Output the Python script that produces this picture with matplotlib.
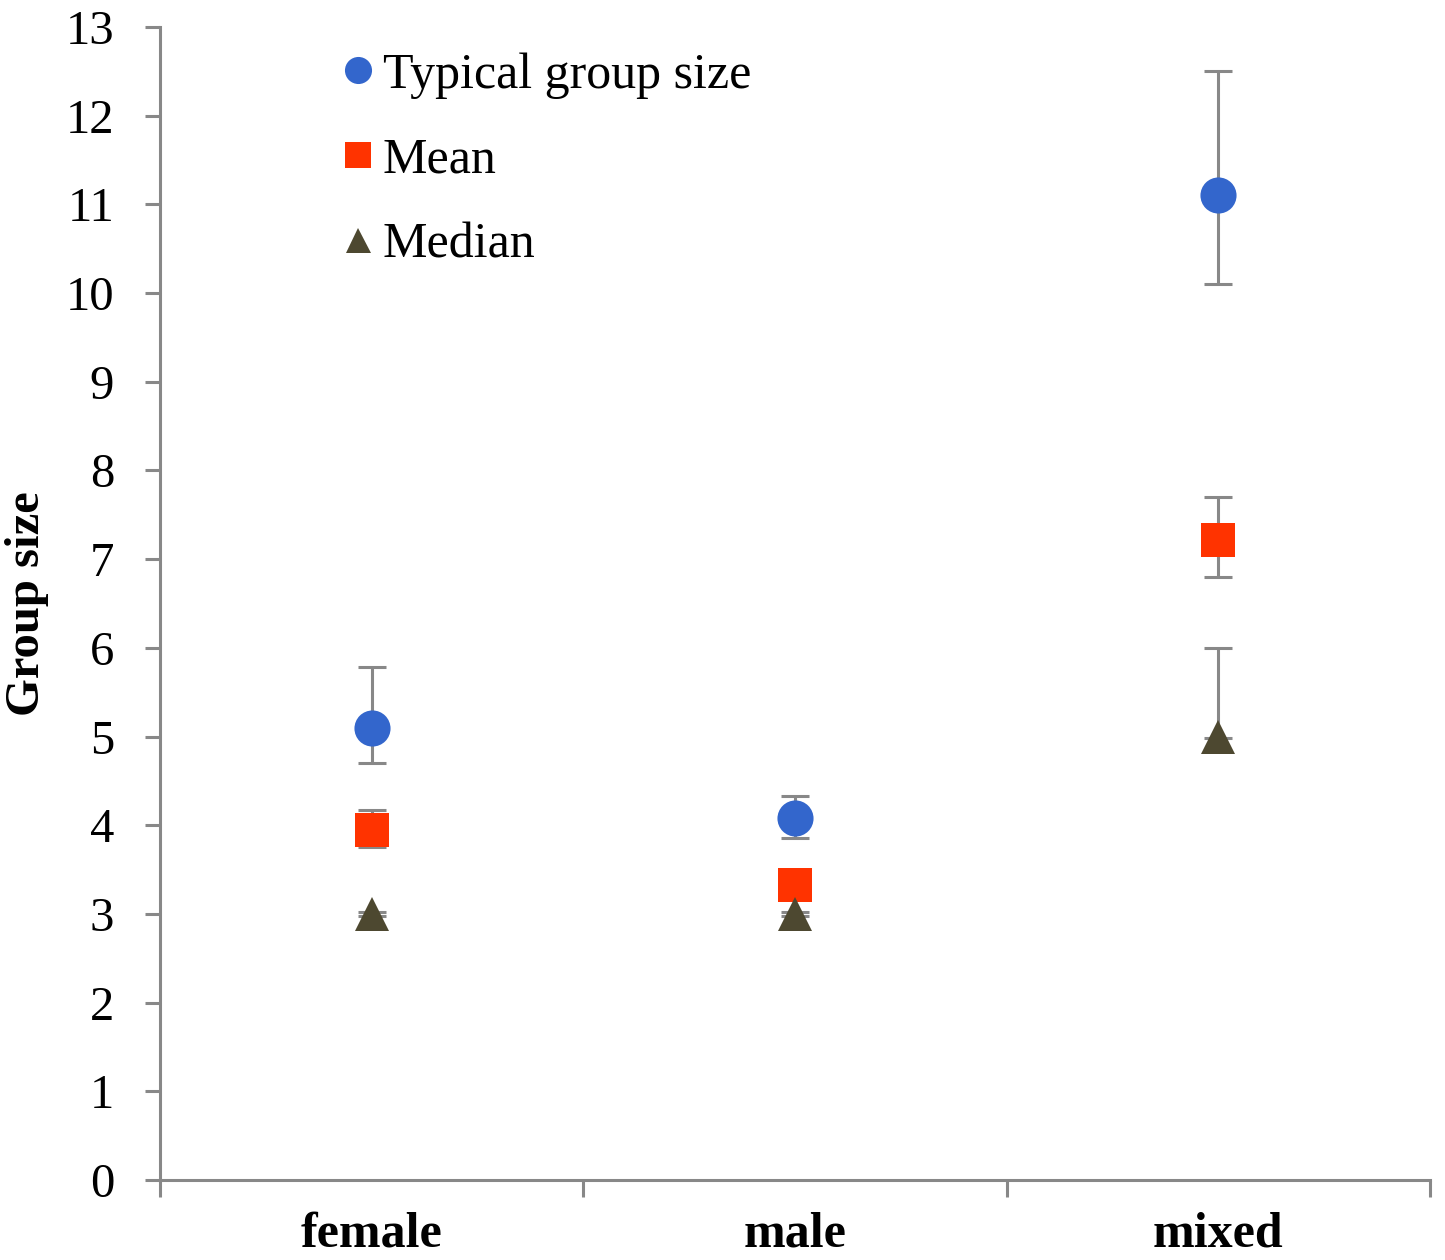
import numpy as np
import matplotlib.pyplot as plt

plt.rcParams['font.family'] = ['Liberation Serif', 'DejaVu Serif']

categories = ['female', 'male', 'mixed']

typical = [5.10, 4.08, 11.10]
typical_lo = [0.40, 0.22, 1.00]
typical_hi = [0.68, 0.25, 1.40]

mean = [3.95, 3.33, 7.22]
mean_lo = [0.20, 0.10, 0.42]
mean_hi = [0.22, 0.10, 0.48]

median = [3.0, 3.0, 5.0]
median_lo = [0.02, 0.02, 0.02]
median_hi = [0.02, 0.02, 1.0]

series = [
    ('Typical group size', typical, typical_lo, typical_hi, 'o', '#3366CC', 26),
    ('Mean', mean, mean_lo, mean_hi, 's', '#FF3300', 25),
    ('Median', median, median_lo, median_hi, '^', '#4D4830', 24),
]

fig = plt.figure(figsize=(14.45, 12.6), dpi=100)
ax = fig.add_axes([0.1107, 0.0635, 0.8789, 0.9151])

x = np.arange(len(categories)) + 0.5
for label, vals, lo, hi, mk, col, ms in series:
    ax.errorbar(x, vals, yerr=[lo, hi], fmt='none', ecolor='#888888',
                elinewidth=2.2, capsize=10, capthick=2.2, zorder=2)
    ax.plot(x, vals, linestyle='none', marker=mk, color=col,
            markersize=ms, markeredgewidth=0, zorder=3, label=label)

ax.set_xlim(0, 3)
ax.set_ylim(0, 13)
ax.set_yticks(range(0, 14))
ax.set_xticks([0, 1, 2, 3])
ax.set_xticklabels([])
# category names sit between the major ticks
ax.set_xticks(x, minor=True)
ax.set_xticklabels(categories, minor=True, fontsize=36, fontweight='bold')
ax.tick_params(axis='x', which='minor', length=0, pad=23)
ax.tick_params(axis='x', which='major', length=12, width=2.2, color='#888888')
ax.tick_params(axis='y', length=11, width=2.2, color='#888888',
               labelsize=35, pad=22)

for s in ['top', 'right']:
    ax.spines[s].set_visible(False)
for s in ['left', 'bottom']:
    ax.spines[s].set_color('#888888')
    ax.spines[s].set_linewidth(2.2)

ax.set_ylabel('Group size', fontsize=35, fontweight='bold', labelpad=12)

leg = ax.legend(loc='upper left', bbox_to_anchor=(0.136, 0.978), frameon=False,
                fontsize=36, markerscale=0.75, handletextpad=0.0,
                labelspacing=0.77, handlelength=1.0,
                borderpad=0, borderaxespad=0)

fig.savefig('out.png', dpi=100)
